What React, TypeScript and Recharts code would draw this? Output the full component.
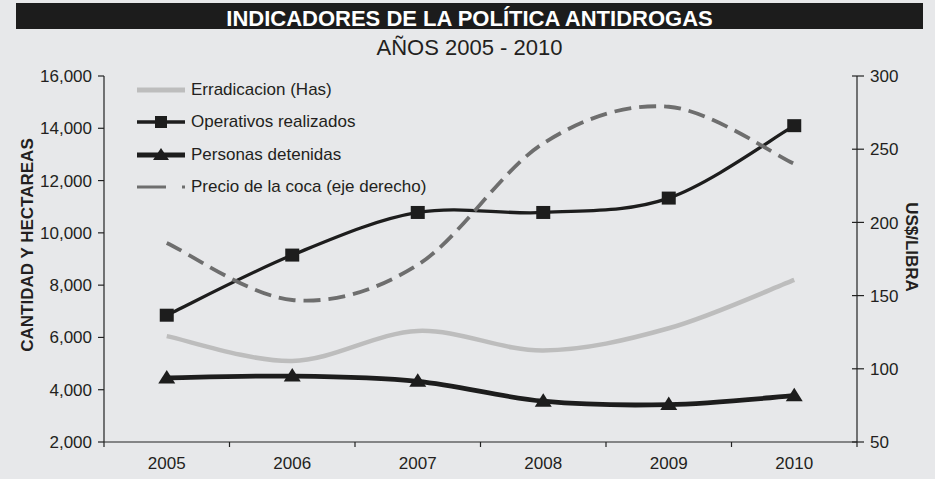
import React from 'react';
import { LineChart, Line, XAxis, YAxis, Legend } from 'recharts';

const years = [2005, 2006, 2007, 2008, 2009, 2010];
const erradicacion = [6050, 5100, 6250, 5500, 6350, 8200];
const operativos = [6850, 9150, 10780, 10780, 11330, 14100];
const personas = [4450, 4520, 4320, 3560, 3430, 3770];
const precio = [186, 147, 171, 254, 279, 240];

const leftTicks = [2000, 4000, 6000, 8000, 10000, 12000, 14000, 16000];
const rightTicks = [50, 100, 150, 200, 250, 300];

const seriesNames = {
  erradicacion: 'Erradicacion (Has)',
  operativos: 'Operativos realizados',
  personas: 'Personas detenidas',
  precio: 'Precio de la coca (eje derecho)',
};

const title = 'INDICADORES DE LA POLÍTICA ANTIDROGAS';
const subtitle = 'AÑOS 2005 - 2010';
const leftLabel = 'CANTIDAD Y HECTAREAS';
const rightLabel = 'US$/LIBRA';

const data = years.map((year, i) => ({
  year,
  erradicacion: erradicacion[i],
  operativos: operativos[i],
  personas: personas[i],
  precio: precio[i],
}));

const xTicks = [years[0] - 0.5, ...years.flatMap((y) => [y, y + 0.5])];

const FONT = '"Liberation Sans", Arial, Helvetica, sans-serif';
const TEXT = '#231f20';
const BG = '#e7e8ea';

// Excel-like smoothed line (Catmull-Rom / cardinal, tension 0)
function excelSmooth(context: any) {
  let pts: number[][] = [];
  return {
    areaStart() {},
    areaEnd() {},
    lineStart() {
      pts = [];
    },
    point(x: number, y: number) {
      pts.push([+x, +y]);
    },
    lineEnd() {
      const n = pts.length;
      if (!n) return;
      context.moveTo(pts[0][0], pts[0][1]);
      for (let i = 0; i < n - 1; i++) {
        const p0 = pts[i - 1] || pts[i];
        const p1 = pts[i];
        const p2 = pts[i + 1];
        const p3 = pts[i + 2] || pts[i + 1];
        context.bezierCurveTo(
          p1[0] + (p2[0] - p0[0]) / 6,
          p1[1] + (p2[1] - p0[1]) / 6,
          p2[0] - (p3[0] - p1[0]) / 6,
          p2[1] - (p3[1] - p1[1]) / 6,
          p2[0],
          p2[1]
        );
      }
    },
  };
}

const SquareDot = (props: any) => {
  const { cx, cy, index } = props;
  if (cx == null || cy == null) return <g key={`sq-${index}`} />;
  return <rect key={`sq-${index}`} x={cx - 7} y={cy - 6.5} width={14} height={13} fill="#1d1d1d" />;
};

const TriangleDot = (props: any) => {
  const { cx, cy, index } = props;
  if (cx == null || cy == null) return <g key={`tr-${index}`} />;
  return (
    <polygon
      key={`tr-${index}`}
      points={`${cx},${cy - 8} ${cx + 8.5},${cy + 5.5} ${cx - 8.5},${cy + 5.5}`}
      fill="#1d1d1d"
    />
  );
};

const XTick = (props: any) => {
  const { x, y, payload } = props;
  const axisY = y - 5;
  if (Number.isInteger(payload.value)) {
    return (
      <text x={x} y={axisY + 27} textAnchor="middle" fontSize={17} fill={TEXT} fontFamily={FONT}>
        {payload.value}
      </text>
    );
  }
  return <line x1={x} x2={x} y1={axisY} y2={axisY + 5} stroke="#222" strokeWidth={1.2} />;
};

const RightTick = (props: any) => {
  const { x, y, payload } = props;
  const axisX = x - 13;
  return (
    <g>
      <line x1={axisX - 5} x2={axisX + 7} y1={y} y2={y} stroke="#222" strokeWidth={1.2} />
      <text x={x} y={y} dy="0.36em" textAnchor="start" fontSize={17} fill={TEXT} fontFamily={FONT}>
        {payload.value}
      </text>
    </g>
  );
};

const legendSample = (key: string) => {
  switch (key) {
    case 'erradicacion':
      return <line x1={0} x2={48} y1={16} y2={16} stroke="#bdbdbd" strokeWidth={5} />;
    case 'operativos':
      return (
        <g>
          <line x1={0} x2={48} y1={16} y2={16} stroke="#1d1d1d" strokeWidth={3.5} />
          <rect x={18} y={10} width={12} height={12} fill="#1d1d1d" />
        </g>
      );
    case 'personas':
      return (
        <g>
          <line x1={0} x2={48} y1={16} y2={16} stroke="#1d1d1d" strokeWidth={5} />
          <polygon points="24,9 32,21 16,21" fill="#1d1d1d" />
        </g>
      );
    default:
      return <line x1={0} x2={48} y1={16} y2={16} stroke="#6e6e6e" strokeWidth={3} strokeDasharray="29 16" />;
  }
};

const renderLegend = (props: any) => {
  const { payload } = props;
  return (
    <div style={{ fontFamily: FONT, fontSize: 17, color: TEXT }}>
      {(payload || []).map((entry: any) => (
        <div key={entry.dataKey} style={{ display: 'flex', alignItems: 'center', height: 32.3 }}>
          <svg width={48} height={32} style={{ display: 'block' }}>
            {legendSample(entry.dataKey)}
          </svg>
          <span style={{ marginLeft: 6, whiteSpace: 'nowrap' }}>{entry.value}</span>
        </div>
      ))}
    </div>
  );
};

export default function App() {
  return (
    <div
      style={{
        position: 'absolute',
        left: 0,
        top: 0,
        width: 935,
        height: 479,
        background: BG,
        overflow: 'hidden',
      }}
    >
      <LineChart width={935} height={479} data={data} margin={{ top: 76, right: 0, bottom: 0, left: 0 }}>
        <XAxis
          dataKey="year"
          type="number"
          domain={[years[0] - 0.5, years[years.length - 1] + 0.5]}
          ticks={xTicks}
          interval={0}
          height={37}
          tickSize={5}
          tickMargin={0}
          tickLine={false}
          axisLine={{ stroke: '#222', strokeWidth: 1.2 }}
          tick={<XTick />}
          allowDecimals
        />
        <YAxis
          yAxisId="left"
          domain={[leftTicks[0], leftTicks[leftTicks.length - 1]]}
          ticks={leftTicks}
          interval={0}
          width={104}
          tickSize={6}
          tickMargin={6}
          tickFormatter={(v: number) => v.toLocaleString('en-US')}
          tick={{ fontSize: 17, fill: TEXT, fontFamily: FONT }}
          tickLine={{ stroke: '#222', strokeWidth: 1.2 }}
          axisLine={{ stroke: '#222', strokeWidth: 1.2 }}
        />
        <YAxis
          yAxisId="right"
          orientation="right"
          domain={[rightTicks[0], rightTicks[rightTicks.length - 1]]}
          ticks={rightTicks}
          interval={0}
          width={78}
          tickSize={6}
          tickMargin={7}
          tickLine={false}
          tick={<RightTick />}
          axisLine={{ stroke: '#222', strokeWidth: 1.2 }}
        />
        <Legend
          layout="vertical"
          align="center"
          verticalAlign="middle"
          content={renderLegend}
          wrapperStyle={{ left: 137, top: 74, width: 320, height: 130 }}
        />
        <Line
          yAxisId="left"
          dataKey="erradicacion"
          name={seriesNames.erradicacion}
          type={excelSmooth as any}
          stroke="#bdbdbd"
          strokeWidth={4.5}
          dot={false}
          activeDot={false}
          isAnimationActive={false}
        />
        <Line
          yAxisId="left"
          dataKey="operativos"
          name={seriesNames.operativos}
          type={excelSmooth as any}
          stroke="#1d1d1d"
          strokeWidth={3.3}
          dot={SquareDot}
          activeDot={false}
          isAnimationActive={false}
        />
        <Line
          yAxisId="left"
          dataKey="personas"
          name={seriesNames.personas}
          type={excelSmooth as any}
          stroke="#1d1d1d"
          strokeWidth={4.8}
          dot={TriangleDot}
          activeDot={false}
          isAnimationActive={false}
        />
        <Line
          yAxisId="right"
          dataKey="precio"
          name={seriesNames.precio}
          type={excelSmooth as any}
          stroke="#6e6e6e"
          strokeWidth={3.8}
          strokeDasharray="17 8"
          dot={false}
          activeDot={false}
          isAnimationActive={false}
        />
      </LineChart>
      <svg
        width={935}
        height={479}
        style={{ position: 'absolute', left: 0, top: 0, pointerEvents: 'none' }}
      >
        <rect x={16} y={3} width={907} height={26} fill="#1c1c1c" />
        <text x={469.5} y={26} textAnchor="middle" fontSize={22} fontWeight="bold" fill="#ffffff" fontFamily={FONT}>
          {title}
        </text>
        <text x={469.5} y={55} textAnchor="middle" fontSize={22} fill={TEXT} fontFamily={FONT}>
          {subtitle}
        </text>
        <text
          transform="translate(27,245) rotate(-90)"
          x={0}
          y={6}
          textAnchor="middle"
          fontSize={17}
          fontWeight="bold"
          fill={TEXT}
          fontFamily={FONT}
        >
          {leftLabel}
        </text>
        <text
          transform="translate(912,247) rotate(90)"
          x={0}
          y={6}
          textAnchor="middle"
          fontSize={17}
          fontWeight="bold"
          fill={TEXT}
          fontFamily={FONT}
        >
          {rightLabel}
        </text>
      </svg>
    </div>
  );
}
